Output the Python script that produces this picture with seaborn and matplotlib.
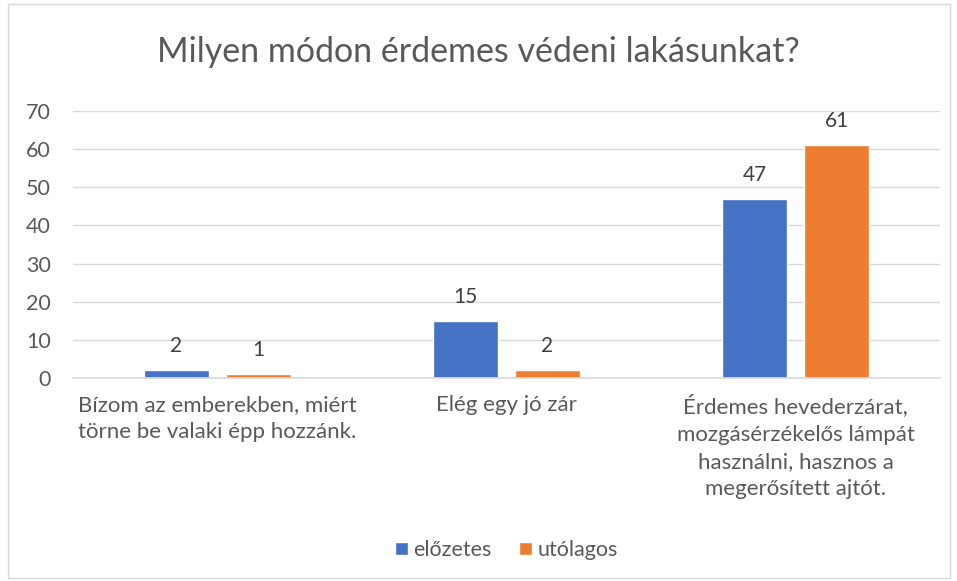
import pandas as pd
import numpy as np
from matplotlib import pyplot as plt
from matplotlib.patches import Rectangle
import seaborn as sns

# Data

categories = ['Bízom az emberekben, miért\ntörne be valaki épp hozzánk.',
              'Elég egy jó zár',
              'Érdemes hevederzárat,\nmozgásérzékelős lámpát\nhasználni, hasznos a\nmegerősített ajtót.']
series = ['előzetes', 'utólagos']
elozetes = [2, 15, 47]
utolagos = [1, 2, 61]
colors = ['#4472C4', '#ED7D31']

df = pd.DataFrame({
    'kategoria': categories * 2,
    'ertek': elozetes + utolagos,
    'sorozat': [series[0]] * 3 + [series[1]] * 3,
})

sns.set_theme(style='white')
plt.rcParams['font.family'] = ['Lato', 'DejaVu Sans']
grey = '#595959'

fig = plt.figure(figsize=(9.57, 5.81), dpi=100)
ax = fig.add_axes([73/957, 1 - 378/581, (940 - 73)/957, (378 - 111)/581])

sns.barplot(data=df, x='kategoria', y='ertek', hue='sorozat', palette=colors,
            width=0.5675, gap=0.207, ax=ax, saturation=1)

for c in ax.containers:
    ax.bar_label(c, padding=10, fontsize=15, color='#404040')

ax.set_ylim(0, 70)
ax.set_yticks(np.arange(0, 71, 10))
ax.yaxis.grid(True, color='#D9D9D9', linewidth=1)
ax.set_axisbelow(True)
ax.set_xlim(-0.5, 2.5)
for s in ['left', 'right', 'top']:
    ax.spines[s].set_visible(False)
ax.spines['bottom'].set_color('#D9D9D9')
ax.tick_params(axis='y', labelsize=15.5, colors=grey, pad=16, length=0)
ax.tick_params(axis='x', labelsize=16, colors=grey, pad=12, length=0)
for t in ax.get_xticklabels():
    t.set_linespacing(1.45)
ax.set_xlabel('')
ax.set_ylabel('')

ax.legend(loc='center', bbox_to_anchor=(0.5, -0.645), ncol=2, frameon=False,
          fontsize=15.5, labelcolor=grey, handlelength=0.6, handleheight=0.6,
          handletextpad=0.25, columnspacing=1.3)

fig.text(0.5, 1 - 52/581, 'Milyen módon érdemes védeni lakásunkat?',
         ha='center', va='center', fontsize=24.5, color=grey)

fig.patches.append(Rectangle((8/957, 3/581), 942/957, 574/581, transform=fig.transFigure,
                             fill=False, edgecolor='#D9D9D9', linewidth=1))

plt.savefig('out.png', dpi=100)
